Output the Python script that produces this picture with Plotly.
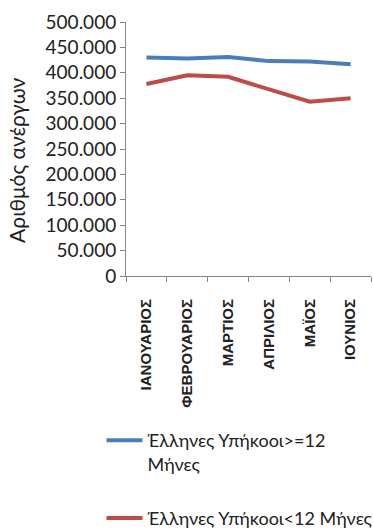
import plotly.graph_objects as go

months = ["ΙΑΝΟΥΑΡΙΟΣ", "ΦΕΒΡΟΥΑΡΙΟΣ", "ΜΑΡΤΙΟΣ", "ΑΠΡΙΛΙΟΣ", "ΜΑΪΟΣ", "ΙΟΥΝΙΟΣ"]
long_term = [430000, 428000, 431000, 423000, 422000, 417000]
short_term = [378000, 395000, 392000, 367000, 343000, 350000]
name_long = "Έλληνες Υπήκοοι>=12<br>Μήνες"
name_short = "Έλληνες Υπήκοοι<12 Μήνες"
y_ticks = [0, 50000, 100000, 150000, 200000, 250000, 300000, 350000, 400000, 450000, 500000]
y_title = "Αριθμός ανέργων"

font_main = "Lato, 'Noto Sans', sans-serif"

fig = go.Figure()
fig.add_trace(go.Scatter(x=months, y=long_term, mode="lines", name=name_long, legendgroup="a",
                         line=dict(color="#4A7EBB", width=4)))
fig.add_trace(go.Scatter(x=months, y=short_term, mode="lines", name=name_short, legendgroup="b",
                         line=dict(color="#BE4B48", width=4)))

fig.update_layout(
    width=373, height=529,
    margin=dict(l=126, r=2, t=22, b=253, autoexpand=False),
    paper_bgcolor="white", plot_bgcolor="white",
    separators=",.",
    font=dict(family=font_main, color="#222222"),
    showlegend=True,
    legend=dict(x=-0.1, y=-0.575, xanchor="left", yanchor="top", valign="top",
                font=dict(size=18, family=font_main, color="#222222"),
                tracegroupgap=28, itemwidth=36, bgcolor="rgba(0,0,0,0)"),
    annotations=[dict(text=y_title, xref="paper", yref="paper", x=-0.445, y=0.457,
                      xanchor="center", yanchor="middle", textangle=-90, showarrow=False,
                      font=dict(size=21, family=font_main, color="#222222"))],
)
fig.update_xaxes(
    range=[-0.5, len(months) - 0.5],
    showgrid=False, showline=True, linecolor="#868686", linewidth=1,
    ticks="outside", tickson="boundaries", ticklen=5, tickcolor="#868686",
    tickangle=-90, ticklabelstandoff=16, automargin=False,
    tickfont=dict(family="'Liberation Sans', Arial, sans-serif", size=15, weight="bold", color="#222222"),
)
fig.update_yaxes(
    range=[0, 500000], tickvals=y_ticks, tickformat=",d",
    showgrid=False, showline=True, linecolor="#868686", linewidth=1,
    ticks="outside", ticklen=5, tickcolor="#868686", automargin=False,
    tickfont=dict(size=19, family=font_main, color="#222222"),
    zeroline=False,
)

fig.write_html("out.html", config={"displayModeBar": False},
               post_script="document.body.style.margin='0';")
